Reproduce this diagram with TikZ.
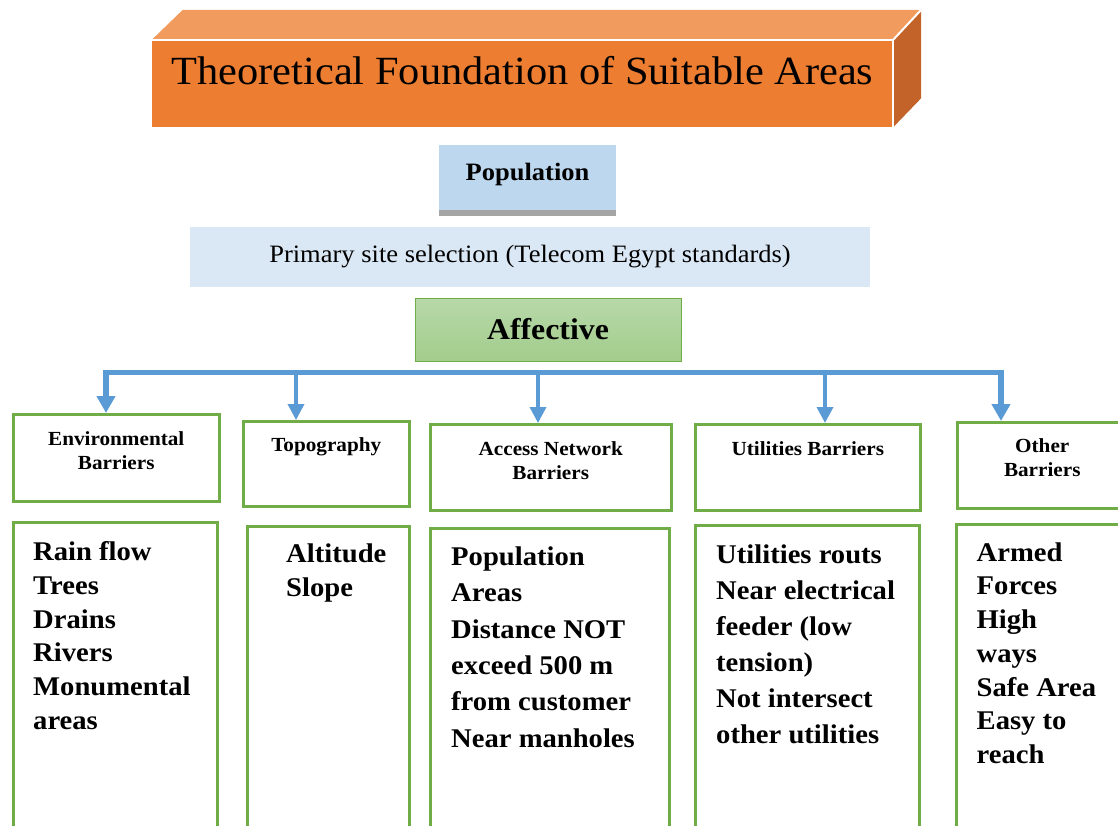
\documentclass[tikz,border=0pt]{standalone}
\usepackage{fontspec}
\setmainfont{Liberation Serif}[FakeStretch=1.06]
\usepackage{tikz}
\usetikzlibrary{arrows.meta, calc, positioning}

\definecolor{frontorange}{HTML}{ED7D31}
\definecolor{toporange}{HTML}{F29B5E}
\definecolor{sideorange}{HTML}{C3632A}
\definecolor{popblue}{HTML}{BDD7EE}
\definecolor{popgray}{HTML}{A5A5A5}
\definecolor{siteblue}{HTML}{DAE7F4}
\definecolor{greenline}{HTML}{70AD47}
\definecolor{greentop}{HTML}{B7D8AA}
\definecolor{greenbot}{HTML}{A3CD8B}
\definecolor{linkblue}{HTML}{5B9BD5}

\begin{document}
\begin{tikzpicture}[x=1pt, y=-1pt,
    headbox/.style={draw=greenline, line width=2.5pt, anchor=north west, inner sep=0pt},
    listbox/.style={draw=greenline, line width=2.5pt, anchor=north west, inner sep=0pt, minimum height=340pt},
    headtext/.style={font=\fontsize{20}{24.5}\selectfont\bfseries, align=center, inner sep=0pt},
    listtext/.style={font=\fontsize{27}{#1}\selectfont\bfseries, align=left, inner sep=0pt},
    listtext/.default=33.7,
    trunk/.style={linkblue, line width=5.5pt, line join=miter, {Triangle[width=18pt,length=17pt]}-{Triangle[width=18pt,length=17pt]}},
    branch/.style={linkblue, line width=3.5pt, -{Triangle[width=16pt,length=16pt]}}]
        \clip (0,0) rectangle (1118,826);

        % title block
        \node[fill=frontorange, minimum width=741pt, minimum height=87pt, text depth=26pt, inner sep=0pt, font=\fontsize{40}{48}\selectfont] (title) at (522.5,83.5) {Theoretical Foundation of Suitable Areas};
        \fill[toporange] (title.north west) -- ++(31,-30) -- ($(title.north east)+(28,-30)$) -- (title.north east) -- cycle;
        \fill[sideorange] (title.north east) -- ($(title.north east)+(28,-30)$) -- ($(title.south east)+(28,-29)$) -- (title.south east) -- cycle;
        \draw[white, line width=2pt] (title.north west) -- (title.north east) -- (title.south east);
        \draw[white, line width=2pt] (title.north east) -- ++(28,-30);

        \node[fill=popblue, minimum width=177pt, minimum height=65pt, text depth=11pt, inner sep=0pt, font=\fontsize{25}{30}\selectfont\bfseries] (pop) at (527.5,177.5) {Population};
        \fill[popgray] (pop.south west) rectangle ($(pop.south east)+(0,6)$);
        \node[fill=siteblue, minimum width=680pt, minimum height=60pt, inner sep=0pt, font=\fontsize{25}{30}\selectfont] (site) at (530,257) {Primary site selection (Telecom Egypt standards)};
        \node[draw=greenline, line width=0.8pt, top color=greentop, bottom color=greenbot, minimum width=266pt, minimum height=63pt, inner sep=0pt, font=\fontsize{30}{36}\selectfont\bfseries] (aff) at (548,329.5) {Affective};

        % headers
        \node[headbox, minimum width=206pt, minimum height=87pt] (envH) at (12,413) {};
        \node[headbox, minimum width=166pt, minimum height=85pt] (topH) at (242,420) {};
        \node[headbox, minimum width=241pt, minimum height=86pt] (accH) at (429,423) {};
        \node[headbox, minimum width=225pt, minimum height=86pt] (utiH) at (694,423) {};
        \node[headbox, minimum width=170pt, minimum height=86pt] (othH) at (956,421) {};
        \node[headtext, below=18pt of envH.north] (envT) {Environmental\\Barriers};
        \node[headtext, below=17pt of topH.north] (topT) {Topography};
        \node[headtext, below=18.4pt of accH.north] (accT) {Access Network\\Barriers};
        \node[headtext, below=18.4pt of utiH.north] (utiT) {Utilities Barriers};
        \node[headtext, below=17pt of othH.north] (othT) {Other\\Barriers};

        % lists
        \node[listbox, minimum width=204pt] (envL) at (12,521) {};
        \node[listbox, minimum width=162pt] (topL) at (246,525) {};
        \node[listbox, minimum width=239pt] (accL) at (429,527) {};
        \node[listbox, minimum width=224pt] (utiL) at (694,524) {};
        \node[listbox, minimum width=175pt] (othL) at (955,523) {};
        \node[listtext, below right=20.5pt and 21pt of envL.north west] (envI) {Rain flow\\Trees\\Drains\\Rivers\\Monumental\\areas};
        \node[listtext, below right=18.6pt and 40pt of topL.north west] (topI) {Altitude\\Slope};
        \node[listtext=36.3, below right=19.6pt and 22pt of accL.north west] (accI) {Population\\Areas\\Distance NOT\\exceed 500 m\\from customer\\Near manholes};
        \node[listtext=36, below right=20.3pt and 22pt of utiL.north west] (utiI) {Utilities routs\\Near electrical\\feeder (low\\tension)\\Not intersect\\other utilities};
        \node[listtext, below right=19.3pt and 21.5pt of othL.north west] (othI) {Armed\\Forces\\High\\ways\\Safe Area\\Easy to\\reach};

        % connectors
        \coordinate (j1) at (106,372.5);
        \coordinate (j2) at (296,372.5);
        \coordinate (j3) at (538,372.5);
        \coordinate (j4) at (825,372.5);
        \coordinate (j5) at (1001,372.5);
        \draw[trunk] (envH.north -| j1) -- (j1) -- (j5) -- (othH.north -| j5);
        \draw[branch] (j2) -- (topH.north -| j2);
        \draw[branch] (j3) -- (accH.north -| j3);
        \draw[branch] (j4) -- (utiH.north -| j4);
\end{tikzpicture}
\end{document}
